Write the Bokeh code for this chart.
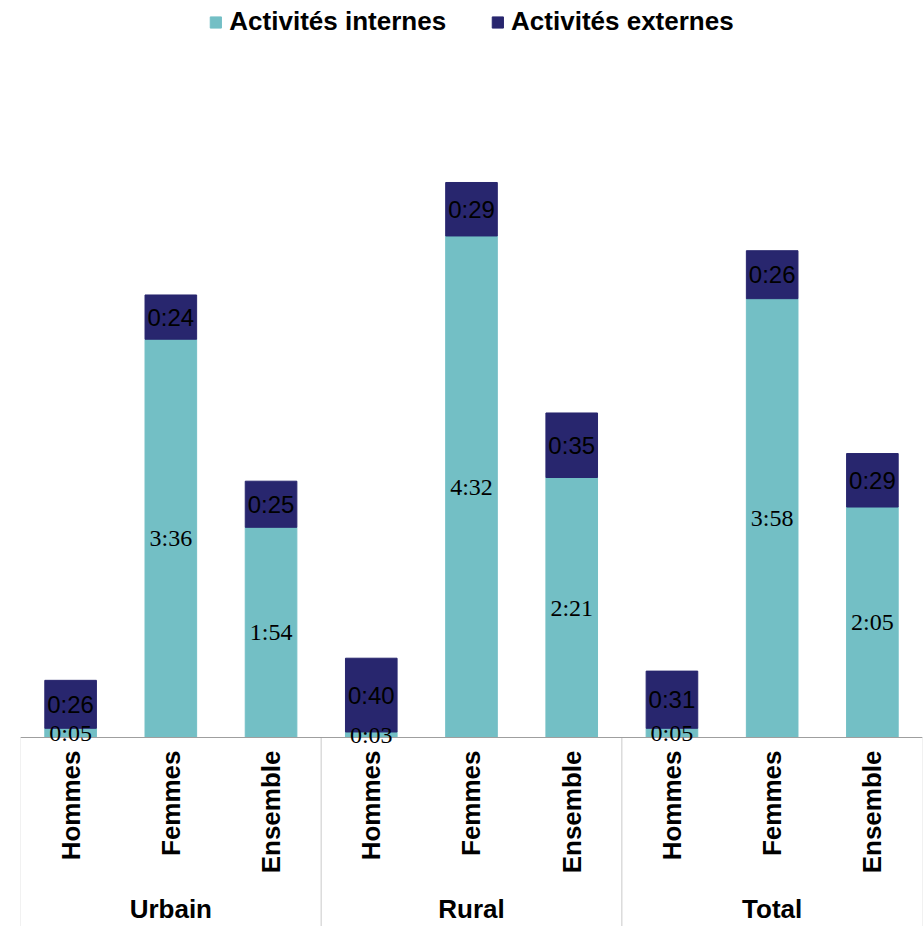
import math
from bokeh.plotting import figure
from bokeh.models import (ColumnDataSource, FactorRange, Range1d, LabelSet,
                          BoxAnnotation, Legend, LegendItem)
from bokeh.embed import file_html
from bokeh.resources import INLINE
from bokeh.core.properties import value

# ---- data ----
groups = ["Urbain", "Rural", "Total"]
sexes = ["Hommes", "Femmes", "Ensemble"]
internes = ["0:05", "3:36", "1:54", "0:03", "4:32", "2:21", "0:05", "3:58", "2:05"]
externes = ["0:26", "0:24", "0:25", "0:40", "0:29", "0:35", "0:31", "0:26", "0:29"]
series_names = ["Activités internes", "Activités externes"]
colors = ["#73BFC5", "#28266E"]


def to_min(s):
    h, m = s.split(":")
    return int(h) * 60 + int(m)


# middle level " " is only a spacer between the two label rows
x = [(g, " ", s) for g in groups for s in sexes]
ivals = [to_min(v) for v in internes]
evals = [to_min(v) for v in externes]
etop = [a + b for a, b in zip(ivals, evals)]

src = ColumnDataSource(dict(
    x=x, i=ivals, etop=etop,
    imid=[a / 2 for a in ivals],
    emid=[a + b / 2 for a, b in zip(ivals, evals)],
    ilab=internes, elab=externes,
))

Y_START, Y_END = -102.5, 399.7

p = figure(
    x_range=FactorRange(factors=x, range_padding=0, group_padding=0,
                        factor_padding=0, subgroup_padding=0),
    y_range=Range1d(Y_START, Y_END),
    width=923, height=926,
    output_backend="svg", toolbar_location=None,
    min_border_left=20, min_border_right=1, min_border_top=0,
    min_border_bottom=0,
    y_axis_location=None, outline_line_color=None,
)

r1 = p.vbar(x="x", bottom=0, top="i", width=0.515, color=colors[0], source=src)
r2 = p.vbar(x="x", bottom="i", top="etop", width=0.515, color=colors[1], source=src)

p.xgrid.grid_line_color = None
p.ygrid.grid_line_color = None

# group boxes (lines under the category axis)
n = len(sexes)
for k in range(len(groups)):
    p.add_layout(BoxAnnotation(left=k * n, right=(k + 1) * n, top=0,
                               bottom=Y_START - 20,
                               fill_alpha=0, line_color="#A0A0A0",
                               line_width=1))

ax = p.xaxis[0]
ax.fixed_location = 0
ax.major_label_orientation = math.pi / 2
ax.major_label_text_font = "Liberation Sans"
ax.major_label_text_font_style = "bold"
ax.major_label_text_font_size = "26px"
ax.major_label_text_color = "black"
ax.major_label_standoff = 7
ax.subgroup_text_font_size = "1px"
ax.group_text_font = "Liberation Sans"
ax.group_text_font_style = "bold"
ax.group_text_font_size = "26px"
ax.group_text_color = "black"
ax.major_tick_line_color = None
ax.minor_tick_line_color = None
ax.axis_line_color = "#A0A0A0"
ax.separator_line_color = None

p.add_layout(LabelSet(x="x", y="imid", text="ilab", source=src,
                      text_align="center", text_baseline="middle",
                      text_font=value("Liberation Serif"),
                      text_font_size="24px", text_color="black"))
p.add_layout(LabelSet(x="x", y="emid", text="elab", source=src,
                      text_align="center", text_baseline="middle",
                      text_font=value("Liberation Sans"),
                      text_font_size="24px", text_color="black"))

legend = Legend(items=[LegendItem(label=series_names[0], renderers=[r1]),
                       LegendItem(label=series_names[1], renderers=[r2])],
                location="top_center", orientation="horizontal",
                glyph_width=14, glyph_height=14, label_standoff=7,
                spacing=44, padding=0, margin=6,
                border_line_color=None, background_fill_alpha=0,
                label_text_font="Liberation Sans",
                label_text_font_style="bold",
                label_text_font_size="26px", label_text_color="black")
p.add_layout(legend, "center")

open("out.html", "w").write(file_html(p, INLINE))
